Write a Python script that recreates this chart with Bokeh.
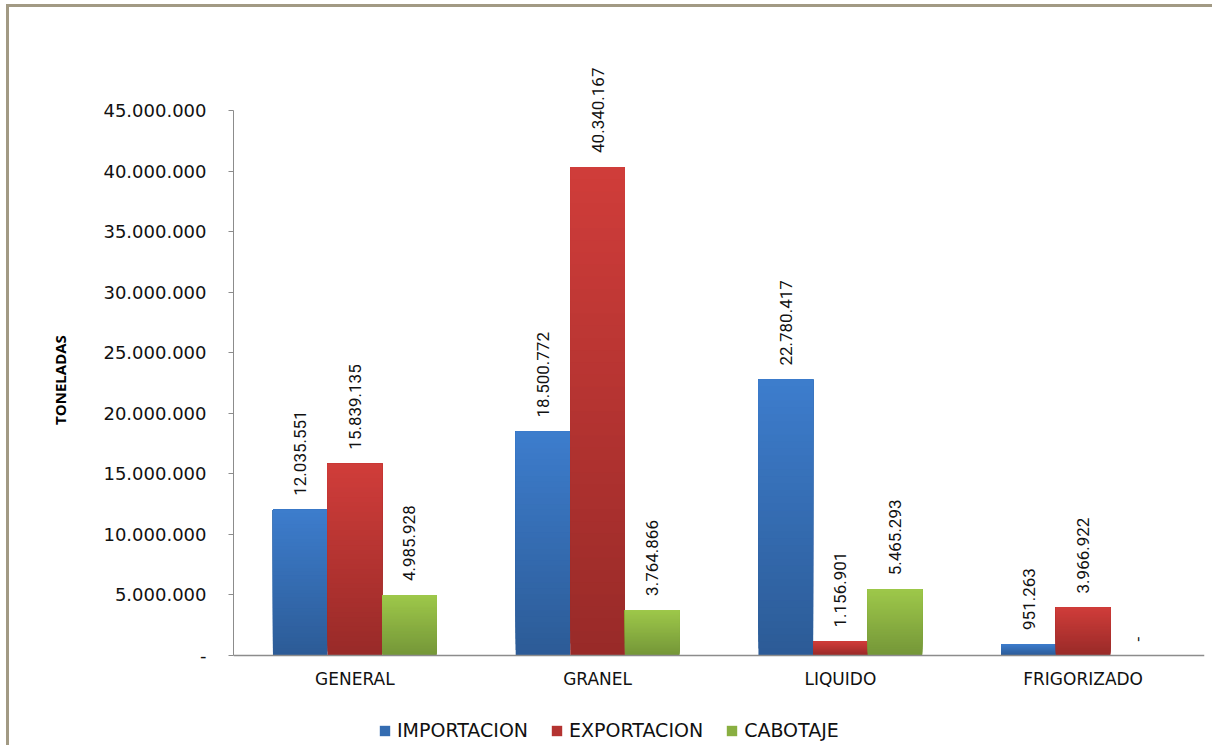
from bokeh.plotting import figure
from bokeh.models import ColumnDataSource, FixedTicker, Legend, LegendItem, Range1d, FactorRange, Span
from bokeh.core.properties import value
from bokeh.transform import dodge
from bokeh.embed import file_html
from bokeh.resources import INLINE
import numpy as np

categories = ["GENERAL", "GRANEL", "LIQUIDO", "FRIGORIZADO"]
series_names = ["IMPORTACION", "EXPORTACION", "CABOTAJE"]
importacion = [12035551, 18500772, 22780417, 951263]
exportacion = [15839135, 40340167, 1156901, 3966922]
cabotaje = [4985928, 3764866, 5465293, 0]
y_ticks = [0, 5000000, 10000000, 15000000, 20000000, 25000000, 30000000, 35000000, 40000000, 45000000]

series_values = [importacion, exportacion, cabotaje]
top_colors = [(61, 125, 205), (208, 61, 58), (158, 200, 74)]
bottom_colors = [(44, 91, 150), (152, 42, 40), (116, 150, 56)]
offsets = [-0.225, 0.0, 0.225]
bar_w = 0.225


def fmt(v):
    if v == 0:
        return "-"
    return f"{v:,}".replace(",", ".")


# page geometry (figure content starts after a 6px margin + 3px border on the left, 4px + 3px on top)
off_x, off_y = 9, 7
fig_w, fig_h = 1215 - off_x, 748 - off_y
frame_left, frame_right = 233, 1204
frame_top_px, axis_top_px, axis_bottom_px, frame_bottom_px = 50, 110, 655, 748

axis_max = y_ticks[-1]
px_per_unit = (axis_bottom_px - axis_top_px) / axis_max
y_end = (axis_bottom_px - frame_top_px) / px_per_unit
y_start = -(frame_bottom_px - axis_bottom_px) / px_per_unit

p = figure(width=fig_w, height=fig_h, x_range=FactorRange(*categories, range_padding=0),
           y_range=Range1d(y_start, y_end), output_backend="svg", toolbar_location=None,
           x_axis_location=None,
           min_border_left=frame_left - off_x, min_border_right=1215 - frame_right,
           min_border_top=frame_top_px - off_y, min_border_bottom=0)
p.styles = {"border-left": "3px solid #a29a84", "border-top": "3px solid #a29a84",
            "margin-left": "6px", "margin-top": "4px"}
p.outline_line_color = None
p.xgrid.grid_line_color = None
p.ygrid.grid_line_color = None
p.background_fill_color = "white"
p.border_fill_color = "white"

# y axis
p.yaxis.bounds = (0, axis_max)
p.yaxis.ticker = FixedTicker(ticks=y_ticks)
p.yaxis.major_label_overrides = {t: fmt(t) for t in y_ticks}
p.yaxis.major_label_text_font = "DejaVu Sans"
p.yaxis.major_label_text_font_size = "18px"
p.yaxis.major_label_text_color = "#111111"
p.yaxis.major_tick_out = 5
p.yaxis.major_tick_in = 0
p.yaxis.minor_tick_line_color = None
p.yaxis.major_label_standoff = 22
p.yaxis.axis_line_color = "#8c8c8c"
p.yaxis.major_tick_line_color = "#8c8c8c"
p.yaxis.axis_label = "\u00a0" * 10 + "TONELADAS"
p.yaxis.axis_label_text_font = "Open Sans"
p.yaxis.axis_label_text_font_style = "bold"
p.yaxis.axis_label_text_font_size = "15px"
p.yaxis.axis_label_text_color = "#000000"
p.yaxis.axis_label_standoff = 30

# x axis: baseline and category labels
p.add_layout(Span(location=0, dimension="width", line_color="#8c8c8c", line_width=1.5))
cat_src = ColumnDataSource(dict(cat=categories, y=[0] * len(categories)))
p.text(x="cat", y="y", text="cat", source=cat_src, text_font=value("DejaVu Sans"),
       text_font_size="17px", text_color="#111111", text_align="center",
       text_baseline="middle", y_offset=23)

nseg = 40
legend_items = []
for si, (name, vals) in enumerate(zip(series_names, series_values)):
    cats, bots, tops, cols = [], [], [], []
    for c, v in zip(categories, vals):
        for k in range(nseg):
            # each slice runs from its own bottom to the bar top; later slices paint over earlier ones
            f0 = k / nseg
            t = (k + 0.5) / nseg
            r, g, b = [int(round(bc + (tc - bc) * t)) for tc, bc in zip(top_colors[si], bottom_colors[si])]
            cats.append(c)
            bots.append(v * f0)
            tops.append(v)
            cols.append(f"#{r:02x}{g:02x}{b:02x}")
    src = ColumnDataSource(dict(cat=cats, bottom=bots, top=tops, color=cols))
    p.vbar(x=dodge("cat", offsets[si], range=p.x_range), bottom="bottom", top="top", width=bar_w,
           source=src, fill_color="color", line_color=None)
    mid = tuple((a + b) // 2 for a, b in zip(top_colors[si], bottom_colors[si]))
    lsrc = ColumnDataSource(dict(cat=[categories[0]], top=[0]))
    proxy = p.vbar(x=dodge("cat", offsets[si], range=p.x_range), top="top", width=0.0,
                   source=lsrc, fill_color="#%02x%02x%02x" % mid, line_color=None)
    legend_items.append(LegendItem(label=name, renderers=[proxy]))

    lab_src = ColumnDataSource(dict(cat=categories, y=list(vals), text=[fmt(v) for v in vals]))
    p.text(x=dodge("cat", offsets[si], range=p.x_range), y="y", text="text", source=lab_src,
           angle=np.pi / 2, text_font=value("Roboto"), text_font_size="17px",
           text_color="#111111", text_align="left", text_baseline="middle", y_offset=-14)

legend = Legend(items=legend_items, orientation="horizontal", location=(145, 7))
legend.label_text_font = "DejaVu Sans"
legend.label_text_font_size = "19px"
legend.label_text_color = "#111111"
legend.glyph_width = 13
legend.glyph_height = 13
legend.label_standoff = 6
legend.spacing = 22
legend.border_line_color = None
legend.background_fill_alpha = 0
legend.margin = 0
legend.padding = 0
p.add_layout(legend)

open("out.html", "w").write(file_html(p, INLINE))
